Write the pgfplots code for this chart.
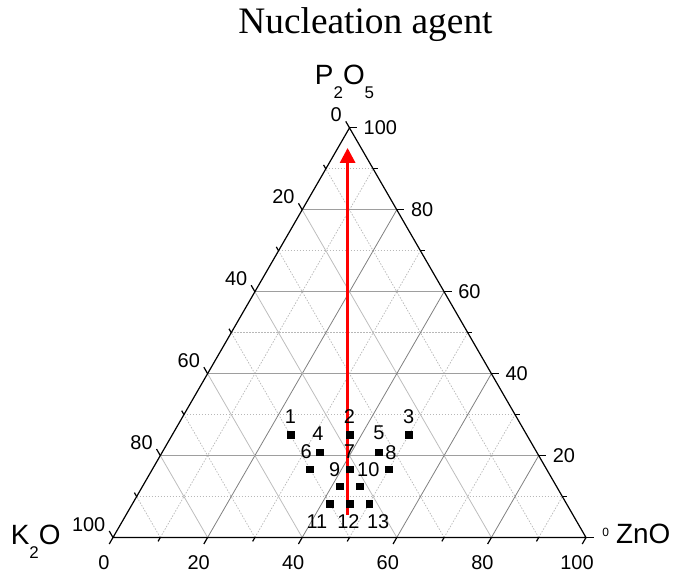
\documentclass[border=0pt]{standalone}
\usepackage{pgfplots}
\pgfplotsset{compat=1.18}
\usepackage{pgfplotstable}
\usetikzlibrary{arrows.meta}
\usepackage{fontspec}
\setmainfont{Liberation Sans}
\newfontfamily\titlefont{Liberation Serif}

\newcommand\ticklab{\fontsize{20}{22}\selectfont}
\newcommand\ptlab{\fontsize{20}{22}\selectfont}
\newcommand\comp{\fontsize{28}{30}\selectfont}
\newcommand\sub[1]{\raisebox{-0.5em}{\fontsize{17}{17}\selectfont #1}}

\definecolor{gridH}{gray}{0.62}
\definecolor{gridZ}{gray}{0.50}
\definecolor{gridK}{gray}{0.74}
\definecolor{gridMinor}{gray}{0.72}

\tikzset{
  minorgrid/.style={gridMinor, line width=0.7bp, dash pattern=on 1.5bp off 1.5bp},
  axisline/.style={black, line width=1.2bp},
}

% compositions in mol% : K2O, ZnO, P2O5 ; dx, dy = label offset (pt)
\pgfplotstableread{
id K     Zn    P     dx  dy
1  50    25    25     0   19
2  37.5  37.5  25     0   19
3  25    50    25     0   19
4  45.83 33.33 20.83 -2   19
5  33.33 45.83 20.83  0   19
6  50    33.33 16.67 -4   18
7  41.67 41.67 16.67  0   18
8  33.33 50    16.67  2   17
9  45.83 41.67 12.5  -5   17
10 41.67 45.83 12.5   9   17
11 50    41.67 8.33 -13  -18
12 45.83 45.83 8.33  -1  -18.5
13 41.67 50    8.33   9  -18
}\samples

% direction of increasing P2O5
\pgfplotstableread{
K     Zn    P
47.65 46.85 5.5
2.85  2.05  95.1
}\trend

\begin{document}
\begin{tikzpicture}
\begin{axis}[
  hide axis, scale only axis, clip=false,
  width=473bp, height=409.63bp,
  xmin=0, xmax=100, ymin=0, ymax=86.60254,
]
% minor grid (every 10 %)
\pgfplotsinvokeforeach{10,30,50,70,90}{
  \draw[minorgrid] (axis cs:{#1/2},{0.8660254*#1}) -- (axis cs:{100-#1/2},{0.8660254*#1});
  \draw[minorgrid] (axis cs:#1,0) -- (axis cs:{50+#1/2},{0.8660254*(100-#1)});
  \draw[minorgrid] (axis cs:{100-#1},0) -- (axis cs:{(100-#1)/2},{0.8660254*(100-#1)});
}
% major grid (every 20 %)
\pgfplotsinvokeforeach{20,40,60,80}{
  \draw[gridH, line width=0.8bp] (axis cs:{#1/2},{0.8660254*#1}) -- (axis cs:{100-#1/2},{0.8660254*#1});
  \draw[gridZ, line width=0.8bp] (axis cs:#1,0) -- (axis cs:{50+#1/2},{0.8660254*(100-#1)});
  \draw[gridK, line width=0.8bp] (axis cs:{100-#1},0) -- (axis cs:{(100-#1)/2},{0.8660254*(100-#1)});
}
% triangle
\draw[axisline, line join=miter] (axis cs:0,0) -- (axis cs:100,0) -- (axis cs:50,86.60254) -- cycle;

% major ticks and labels
\pgfplotsinvokeforeach{0,20,40,60,80,100}{
  \draw[axisline] (axis cs:{(100-#1)/2},{0.8660254*(100-#1)}) -- ++(120:7.5bp);
  \node[anchor=south east, inner sep=0pt, font=\ticklab, xshift=-7.5bp, yshift=5.5bp]
    at (axis cs:{(100-#1)/2},{0.8660254*(100-#1)}) {#1};
  \draw[axisline] (axis cs:{100-#1/2},{0.8660254*#1}) -- ++(0:7.5bp);
  \draw[axisline] (axis cs:#1,0) -- ++(240:7.5bp);
  \node[anchor=north, inner sep=0pt, font=\ticklab, xshift=-9bp, yshift=-17.5bp]
    at (axis cs:#1,0) {#1};
}
\pgfplotsinvokeforeach{20,40,60,80,100}{
  \node[anchor=west, inner sep=0pt, font=\ticklab, xshift=14bp]
    at (axis cs:{100-#1/2},{0.8660254*#1}) {#1};
}
\node[inner sep=0pt, font=\fontsize{12}{13}\selectfont] at (axis cs:104.19,1.10) {0};
% minor ticks
\pgfplotsinvokeforeach{10,30,50,70,90}{
  \draw[axisline] (axis cs:{(100-#1)/2},{0.8660254*(100-#1)}) -- ++(120:4.5bp);
  \draw[axisline] (axis cs:{100-#1/2},{0.8660254*#1}) -- ++(0:4.5bp);
  \draw[axisline] (axis cs:#1,0) -- ++(240:4.5bp);
}

% component names and title
\node[anchor=base, inner sep=0pt, font=\titlefont\fontsize{37.5}{40}\selectfont]
  at (axis cs:53.38,106.55) {Nucleation agent};
\node[anchor=base west, inner sep=0pt, font=\comp] at (axis cs:42.66,95.67) {P\sub{2}O\sub{5}};
\node[anchor=base west, inner sep=0pt, font=\comp] at (axis cs:-21.63,-1.44) {K\sub{2}O};
\node[anchor=base west, inner sep=0pt, font=\comp] at (axis cs:106.34,-1.23) {ZnO};

% glass compositions
\addplot[only marks, mark=square*, black, mark size=3.4bp,
  visualization depends on={\thisrow{dx}\as\labdx},
  visualization depends on={\thisrow{dy}\as\labdy},
  point meta=explicit symbolic,
  nodes near coords,
  nodes near coords style={anchor=center, inner sep=0pt, font=\ptlab, text=black,
    xshift=\labdx, yshift=\labdy}]
  table[x expr=\thisrow{Zn}+0.5*\thisrow{P}, y expr=0.8660254*\thisrow{P}, meta=id] {\samples};

% trend arrow
\addplot[red, line width=3bp, -{Triangle[width=15bp,length=15bp]}]
  table[x expr=\thisrow{Zn}+0.5*\thisrow{P}, y expr=0.8660254*\thisrow{P}] {\trend};

\coordinate (bbA) at (axis cs:-23.890,-7.717);
\coordinate (bbB) at (axis cs:119.662,113.636);
\end{axis}
\pgfresetboundingbox
\useasboundingbox (bbA) rectangle (bbB);
\end{tikzpicture}
\end{document}
